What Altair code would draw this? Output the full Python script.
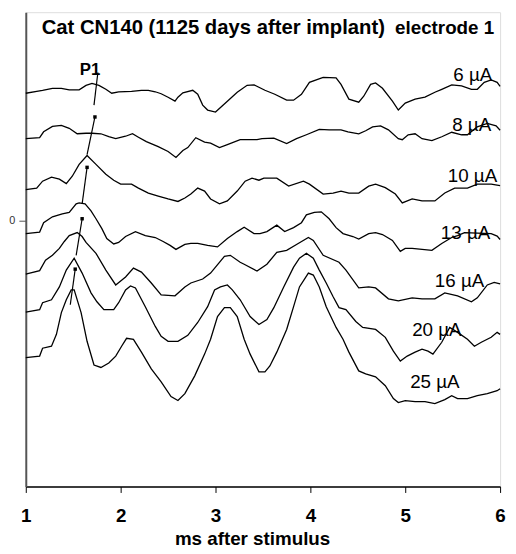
import altair as alt
import pandas as pd

FONT = "Liberation Sans"

labels = ["6 µA", "8 µA", "10 µA", "13 µA", "16 µA", "20 µA", "25 µA"]

t_6 = [1.0, 1.115, 1.177, 1.281, 1.375, 1.458, 1.5625, 1.635, 1.698, 1.771, 1.844, 1.906, 1.979, 2.115, 2.219, 2.292, 2.365, 2.427, 2.5, 2.573, 2.604, 2.656, 2.76, 2.8125, 2.865, 2.917, 3.0, 3.125, 3.229, 3.333, 3.406, 3.521, 3.625, 3.75, 3.823, 3.906, 3.99, 4.135, 4.271, 4.323, 4.406, 4.51, 4.5625, 4.635, 4.6875, 4.76, 4.865, 4.927, 5.0, 5.104, 5.208, 5.3125, 5.385, 5.49, 5.594, 5.698, 5.76, 5.833, 5.906, 5.969, 6.0]
v_6 = [129, 131, 132, 134, 134, 132.5, 132.5, 137, 139, 137, 133, 129, 130.5, 131, 132, 132, 130.5, 128.5, 125, 121, 125, 129.5, 132, 128, 117, 112, 110, 121, 130, 137, 137.5, 132, 128, 122, 122, 128, 140, 145, 144.5, 138, 123, 120, 126, 138, 139.5, 134, 121, 112, 119, 123, 125, 130, 133, 137.5, 136.5, 133, 133, 140, 142.5, 140, 136]

t_8 = [1.0, 1.146, 1.188, 1.281, 1.375, 1.458, 1.542, 1.635, 1.698, 1.792, 1.875, 1.948, 2.052, 2.125, 2.1875, 2.271, 2.396, 2.5, 2.583, 2.656, 2.708, 2.792, 2.885, 2.948, 3.042, 3.125, 3.26, 3.4375, 3.49, 3.615, 3.75, 3.854, 3.958, 4.094, 4.198, 4.323, 4.396, 4.51, 4.583, 4.656, 4.74, 4.823, 4.927, 4.969, 5.031, 5.104, 5.177, 5.281, 5.385, 5.49, 5.594, 5.656, 5.76, 5.865, 5.958, 6.0]
v_8 = [83, 84, 90, 95.5, 96.5, 93.5, 88, 88.5, 88.5, 88, 85, 83, 85.5, 88, 84.5, 80, 75, 70, 64, 71, 74, 84, 79.5, 78.5, 74, 77, 82, 82, 83, 83.5, 78, 83, 87, 92.5, 92, 92, 90, 88, 91, 95, 96, 92, 83, 82, 87, 88, 83, 81, 85, 89.5, 87, 87, 95, 98.5, 96, 91.5]

t_10 = [1.0, 1.115, 1.177, 1.271, 1.354, 1.427, 1.49, 1.5625, 1.646, 1.74, 1.844, 1.927, 2.0, 2.115, 2.1875, 2.292, 2.396, 2.5, 2.604, 2.677, 2.74, 2.8125, 2.885, 2.948, 3.042, 3.125, 3.229, 3.3125, 3.385, 3.458, 3.51, 3.646, 3.771, 3.927, 3.99, 4.135, 4.24, 4.323, 4.406, 4.51, 4.615, 4.6875, 4.79, 4.896, 4.969, 5.073, 5.177, 5.3125, 5.417, 5.521, 5.656, 5.76, 5.906, 6.0]
v_10 = [31.5, 33, 40, 44, 42, 37.5, 45, 57, 66, 57, 47, 41, 37, 37, 33, 28, 25, 22, 19.5, 23, 27, 33, 30, 22, 17, 20, 30, 40, 43, 41, 43, 43, 35, 40, 37, 27, 28, 30, 28, 28, 35, 37, 33.5, 27, 18, 22, 20, 20, 28, 33, 33, 37, 37, 35.5]

t_13 = [1.0, 1.146, 1.188, 1.281, 1.385, 1.458, 1.531, 1.5625, 1.625, 1.6875, 1.74, 1.802, 1.854, 1.927, 1.979, 2.052, 2.156, 2.26, 2.365, 2.448, 2.521, 2.583, 2.677, 2.74, 2.8125, 2.917, 3.021, 3.125, 3.229, 3.302, 3.406, 3.469, 3.542, 3.646, 3.729, 3.823, 3.906, 3.958, 4.042, 4.115, 4.198, 4.271, 4.344, 4.448, 4.51, 4.615, 4.6875, 4.76, 4.865, 4.948, 5.0, 5.073, 5.281, 5.385, 5.49, 5.552, 5.625, 5.76, 5.906, 5.969, 6.0]
v_13 = [-13, -11.5, -2, 4, 7, 8.5, 17, 18, 17, 10, 2, -8, -18, -23.5, -22, -16, -11, -15, -17, -21, -25, -29, -24, -23, -23, -25, -26.5, -18, -11, -6.5, -13, -13, -11, -4.5, -11, -7, -2, 6, 8.5, 9, 2, -7, -13, -16, -18.5, -13, -12, -14, -20, -31, -28, -28, -30, -23, -17, -15, -12, -12.5, -13, -15.5, -19]

t_16 = [1.0, 1.146, 1.208, 1.281, 1.354, 1.406, 1.458, 1.542, 1.594, 1.635, 1.74, 1.844, 1.948, 2.052, 2.135, 2.219, 2.323, 2.427, 2.573, 2.677, 2.74, 2.865, 2.948, 3.094, 3.156, 3.26, 3.302, 3.4375, 3.542, 3.646, 3.75, 3.854, 3.979, 4.031, 4.135, 4.302, 4.375, 4.51, 4.615, 4.6875, 4.823, 4.927, 5.073, 5.177, 5.3125, 5.417, 5.552, 5.698, 5.76, 5.865, 5.9375, 6.0]
v_16 = [-54, -50.5, -40, -35, -28, -21, -15, -12, -16, -22, -33, -50, -65, -57, -48, -52, -63, -75, -76, -67, -63, -59, -53, -36, -35, -42, -44, -51, -44, -32, -30, -24, -17, -20, -35, -42, -50, -68, -67, -68, -79, -81, -78, -79, -79, -73, -76, -82, -78, -65, -62.5, -64]

t_20 = [1.0, 1.146, 1.177, 1.271, 1.354, 1.427, 1.51, 1.594, 1.6875, 1.75, 1.823, 1.927, 1.979, 2.052, 2.104, 2.156, 2.26, 2.365, 2.427, 2.5, 2.604, 2.708, 2.8125, 2.917, 2.99, 3.052, 3.125, 3.177, 3.26, 3.365, 3.458, 3.542, 3.615, 3.719, 3.823, 3.885, 3.958, 4.031, 4.094, 4.167, 4.24, 4.302, 4.375, 4.479, 4.552, 4.6875, 4.79, 4.875, 4.948, 5.021, 5.104, 5.177, 5.24, 5.292, 5.385, 5.469, 5.552, 5.656, 5.729, 5.802, 5.906, 5.969, 6.0]
v_20 = [-92.5, -90, -83, -80, -67, -50, -38, -53, -73, -82, -90, -90, -83, -70, -66, -68, -87, -107, -117, -122, -122, -116, -103, -87, -70, -67, -65, -70, -80, -97, -105, -100, -88, -67, -47, -38, -33, -38, -50, -63, -77, -88, -90, -102, -108, -110, -118, -132, -142, -137, -133, -130, -132, -135, -123, -108, -113, -120, -127, -123, -118, -113, -115]

t_25 = [1.0, 1.146, 1.177, 1.271, 1.323, 1.375, 1.427, 1.479, 1.51, 1.583, 1.646, 1.719, 1.792, 1.875, 1.948, 2.01, 2.0625, 2.135, 2.219, 2.323, 2.427, 2.531, 2.604, 2.677, 2.781, 2.885, 2.948, 3.021, 3.094, 3.156, 3.229, 3.302, 3.365, 3.458, 3.521, 3.573, 3.646, 3.75, 3.823, 3.885, 3.979, 4.031, 4.094, 4.167, 4.271, 4.344, 4.406, 4.51, 4.583, 4.6875, 4.79, 4.875, 4.927, 5.0, 5.104, 5.208, 5.3125, 5.417, 5.49, 5.552, 5.656, 5.76, 5.865, 5.969, 6.0]
v_25 = [-138.5, -137, -129, -127, -115, -93, -80, -70, -70, -93, -122, -146, -148.5, -144, -137, -127, -119, -120, -133, -150, -163, -178, -182, -175, -157, -135, -120, -97, -88, -88, -97, -120, -135, -153, -153, -147, -133, -110, -87, -67, -53, -55, -67, -87, -108, -120, -133, -152, -155, -158, -167, -180, -184, -182, -183, -183, -185, -181, -177, -180, -180, -177, -175, -172, -170]

# P1 latency markers
p1_t_top = [1.76, 1.729, 1.646, 1.594, 1.521]
p1_v_top = [150, 105, 54, 2, -49]
p1_t_bot = [1.719, 1.646, 1.594, 1.531, 1.469]
p1_v_bot = [117, 67, 17, -35, -85]
p1_square = [False, True, True, True, True]

# label anchor points (right end)
label_t = [5.917, 5.906, 5.969, 5.896, 5.833, 5.594, 5.573]
label_v = [147, 97, 45, -13, -61, -111, -163]

traces = [(t_6, v_6), (t_8, v_8), (t_10, v_10), (t_13, v_13), (t_16, v_16), (t_20, v_20), (t_25, v_25)]
rows = []
for i, (tt, vv) in enumerate(traces):
    for k, (a, b) in enumerate(zip(tt, vv)):
        rows.append({"trace": labels[i], "t": a, "v": b, "k": k})
df = pd.DataFrame(rows)

xs = alt.Scale(domain=[1, 6], nice=False, zero=False)
ys = alt.Scale(domain=[-269, 211], nice=False, zero=False)

xaxis = alt.Axis(values=[1, 2, 3, 4, 5, 6], format="d", grid=False,
                 labelFont=FONT, labelFontSize=19, labelFontWeight="bold", labelColor="black",
                 labelPadding=14, labelFlush=False, labelOverlap=False,
                 tickColor="black", tickSize=6, tickWidth=1,
                 domainColor="black", domainWidth=1.5,
                 title="ms after stimulus", titleFont=FONT, titleFontSize=19,
                 titleFontWeight="bold", titleColor="black", titlePadding=5, titleX=229)
yaxis = alt.Axis(values=[0], grid=False, labelFont=FONT, labelFontSize=11, labelColor="#333",
                 labelPadding=4, tickColor="#555", tickSize=7, tickWidth=1,
                 domainColor="#555", domainWidth=2, title=None)

lines = alt.Chart(df).mark_line(color="black", strokeWidth=1.3).encode(
    x=alt.X("t:Q", scale=xs, axis=xaxis),
    y=alt.Y("v:Q", scale=ys, axis=yaxis),
    detail="trace:N",
    order="k:Q",
)

pdf = pd.DataFrame({"t": p1_t_top, "v": p1_v_top, "t2": p1_t_bot, "v2": p1_v_bot, "sq": p1_square})
rules = alt.Chart(pdf).mark_rule(color="black", strokeWidth=1.2).encode(
    x=alt.X("t:Q", scale=xs), y=alt.Y("v:Q", scale=ys), x2="t2:Q", y2="v2:Q")
squares = alt.Chart(pdf[pdf["sq"]]).mark_square(color="black", size=12, opacity=1, filled=True).encode(
    x=alt.X("t:Q", scale=xs), y=alt.Y("v:Q", scale=ys))

ldf = pd.DataFrame({"t": label_t, "v": label_v, "txt": labels})
ltext = alt.Chart(ldf).mark_text(font=FONT, fontSize=19, align="right", baseline="middle", color="black").encode(
    x=alt.X("t:Q", scale=xs), y=alt.Y("v:Q", scale=ys), text="txt:N")

title_df = pd.DataFrame({"t": [1.167, 5.9375], "v": [195, 195],
                         "txt": ["Cat CN140 (1125 days after implant)", "electrode 1"]})
t1 = alt.Chart(title_df.iloc[[0]]).mark_text(font=FONT, fontSize=20.5, fontWeight="bold", align="left",
                                            baseline="middle", color="black").encode(
    x=alt.X("t:Q", scale=xs), y=alt.Y("v:Q", scale=ys), text="txt:N")
t2 = alt.Chart(title_df.iloc[[1]]).mark_text(font=FONT, fontSize=19, fontWeight="bold", align="right",
                                            baseline="middle", color="black").encode(
    x=alt.X("t:Q", scale=xs), y=alt.Y("v:Q", scale=ys), text="txt:N")

p1df = pd.DataFrame({"t": [1.677], "v": [152], "txt": ["P1"]})
p1 = alt.Chart(p1df).mark_text(font=FONT, fontSize=17, fontWeight="bold", align="center",
                               baseline="middle", color="black").encode(
    x=alt.X("t:Q", scale=xs), y=alt.Y("v:Q", scale=ys), text="txt:N")

chart = alt.layer(lines, rules, squares, ltext, t1, t2, p1).properties(
    width=480, height=480,
    autosize=alt.AutoSizeParams(type="none"),
    padding={"left": 18, "top": 1, "right": 8, "bottom": 64},
).configure_view(stroke="#555", strokeWidth=2).configure(background="white")

chart.save("out.html", embed_options={"renderer": "svg", "actions": False})
